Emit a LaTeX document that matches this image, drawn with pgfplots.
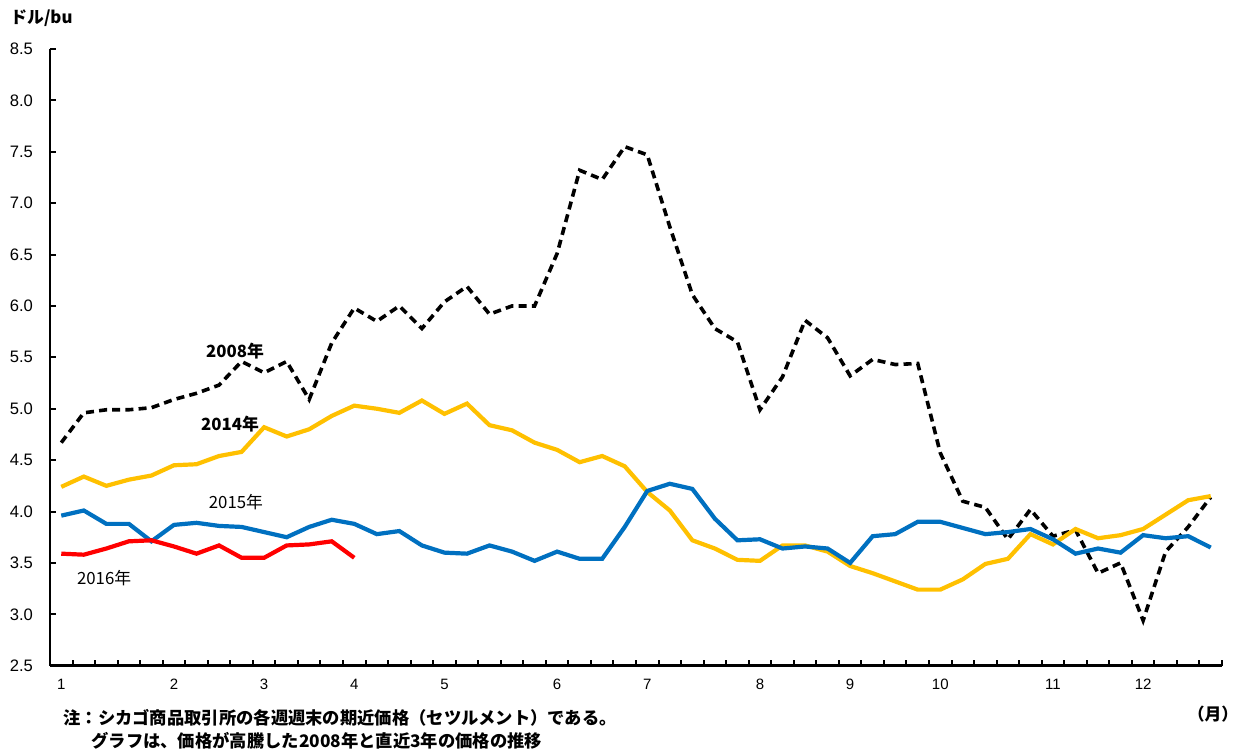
\documentclass[border=0pt]{standalone}
\usepackage{fontspec}
\setmainfont{Liberation Sans}
\newfontfamily\jp{Noto Sans CJK JP}
\usepackage{pgfplots}
\usepackage{pgfplotstable}
\pgfplotsset{compat=1.18}

% weekly settlement prices, week number and price
\pgfplotstableread{
w y
1 4.67
2 4.96
3 4.99
4 4.99
5 5.01
6 5.09
7 5.15
8 5.23
9 5.46
10 5.35
11 5.46
12 5.09
13 5.64
14 5.98
15 5.85
16 6.00
17 5.78
18 6.04
19 6.19
20 5.92
21 6.00
22 6.00
23 6.51
24 7.32
25 7.23
26 7.55
27 7.47
28 6.77
29 6.11
30 5.78
31 5.65
32 4.99
33 5.31
34 5.86
35 5.69
36 5.32
37 5.48
38 5.43
39 5.44
40 4.57
41 4.10
42 4.04
43 3.73
44 4.02
45 3.76
46 3.82
47 3.40
48 3.50
49 2.94
50 3.61
51 3.85
52 4.14
}\yrA

\pgfplotstableread{
w y
1 4.24
2 4.34
3 4.25
4 4.31
5 4.35
6 4.45
7 4.46
8 4.54
9 4.58
10 4.82
11 4.73
12 4.80
13 4.93
14 5.03
15 5.00
16 4.96
17 5.08
18 4.95
19 5.05
20 4.84
21 4.79
22 4.67
23 4.60
24 4.48
25 4.54
26 4.44
27 4.19
28 4.01
29 3.72
30 3.64
31 3.53
32 3.52
33 3.67
34 3.67
35 3.61
36 3.47
37 3.40
38 3.32
39 3.24
40 3.24
41 3.34
42 3.49
43 3.54
44 3.78
45 3.68
46 3.83
47 3.74
48 3.77
49 3.83
50 3.97
51 4.11
52 4.15
}\yrB

\pgfplotstableread{
w y
1 3.96
2 4.01
3 3.88
4 3.88
5 3.71
6 3.87
7 3.89
8 3.86
9 3.85
10 3.80
11 3.75
12 3.85
13 3.92
14 3.88
15 3.78
16 3.81
17 3.67
18 3.60
19 3.59
20 3.67
21 3.61
22 3.52
23 3.61
24 3.54
25 3.54
26 3.85
27 4.20
28 4.27
29 4.22
30 3.93
31 3.72
32 3.73
33 3.64
34 3.66
35 3.64
36 3.50
37 3.76
38 3.78
39 3.90
40 3.90
41 3.84
42 3.78
43 3.80
44 3.83
45 3.73
46 3.59
47 3.64
48 3.60
49 3.77
50 3.74
51 3.76
52 3.65
}\yrC

\pgfplotstableread{
w y
1 3.59
2 3.58
3 3.64
4 3.71
5 3.72
6 3.66
7 3.59
8 3.67
9 3.55
10 3.55
11 3.67
12 3.68
13 3.71
14 3.55
}\yrD

\definecolor{cYellow}{HTML}{FFC000}
\definecolor{cBlue}{HTML}{0070C0}
\definecolor{cRed}{HTML}{FF0000}

\begin{document}
\begin{tikzpicture}
\begin{axis}[
    name=ax,
    scale only axis,
    width=586pt, height=308.35pt,
    xmin=0.5, xmax=52.5,
    ymin=2.5, ymax=8.5,
    axis x line*=bottom,
    axis y line*=left,
    axis line style={line width=1.3pt},
    tick style={line width=1pt, black},
    tick align=inside,
    major tick length=3pt,
    xtick={0.5,1.5,...,52.5},
    xticklabels={},
    extra x ticks={1,6,10,14,18,23,27,32,36,40,45,49},
    extra x tick labels={1,2,3,4,5,6,7,8,9,10,11,12},
    extra x tick style={major tick length=0pt, tick style={draw=none}},
    xticklabel style={font=\fontsize{7.5}{9}\selectfont, yshift=-3pt},
    ytick={2.5,3,...,8.5},
    yticklabel style={font=\fontsize{8.3}{10}\selectfont, xshift=-5pt,
        /pgf/number format/.cd, fixed, fixed zerofill, precision=1},
    /pgf/number format/assume math mode=true,
    clip=false,
]
\addplot[black, line width=1.8pt, dash pattern=on 4pt off 2.6pt] table[x=w, y=y] {\yrA};
\addplot[cYellow, line width=2.1pt] table[x=w, y=y] {\yrB};
\addplot[cBlue, line width=2.1pt] table[x=w, y=y] {\yrC};
\addplot[cRed, line width=2.1pt] table[x=w, y=y] {\yrD};

\node[font=\jp\bfseries\fontsize{8.4}{10}\selectfont] at (axis cs:8.71,5.56) {2008年};
\node[font=\jp\bfseries\fontsize{8.4}{10}\selectfont] at (axis cs:8.49,4.85) {2014年};
\node[font=\jp\fontsize{8.4}{10}\selectfont] at (axis cs:8.75,4.09) {2015年};
\node[font=\jp\fontsize{8.4}{10}\selectfont] at (axis cs:2.9,3.35) {2016年};
\end{axis}

\node[anchor=west, inner sep=0pt, font=\jp\bfseries\fontsize{8.4}{10}\selectfont]
    at ([shift={(-20pt,15.5pt)}]ax.north west) {ドル/bu};
\node[inner sep=0pt, font=\jp\bfseries\fontsize{8.4}{10}\selectfont]
    at ([shift={(581.5pt,-24.3pt)}]ax.south west) {（月）};
\node[anchor=west, inner sep=0pt, font=\jp\bfseries\fontsize{8.65}{10}\selectfont]
    at ([shift={(6.5pt,-26pt)}]ax.south west) {注：シカゴ商品取引所の各週週末の期近価格（セツルメント）である。};
\node[anchor=west, inner sep=0pt, font=\jp\bfseries\fontsize{8.65}{10}\selectfont]
    at ([shift={(20.5pt,-37.5pt)}]ax.south west) {グラフは、価格が高騰した2008年と直近3年の価格の推移};

\pgfresetboundingbox
\path[use as bounding box] ([shift={(-25pt,-41.65pt)}]ax.south west)
    rectangle ([shift={(595pt,332.85pt)}]ax.south west);
\end{tikzpicture}
\end{document}
